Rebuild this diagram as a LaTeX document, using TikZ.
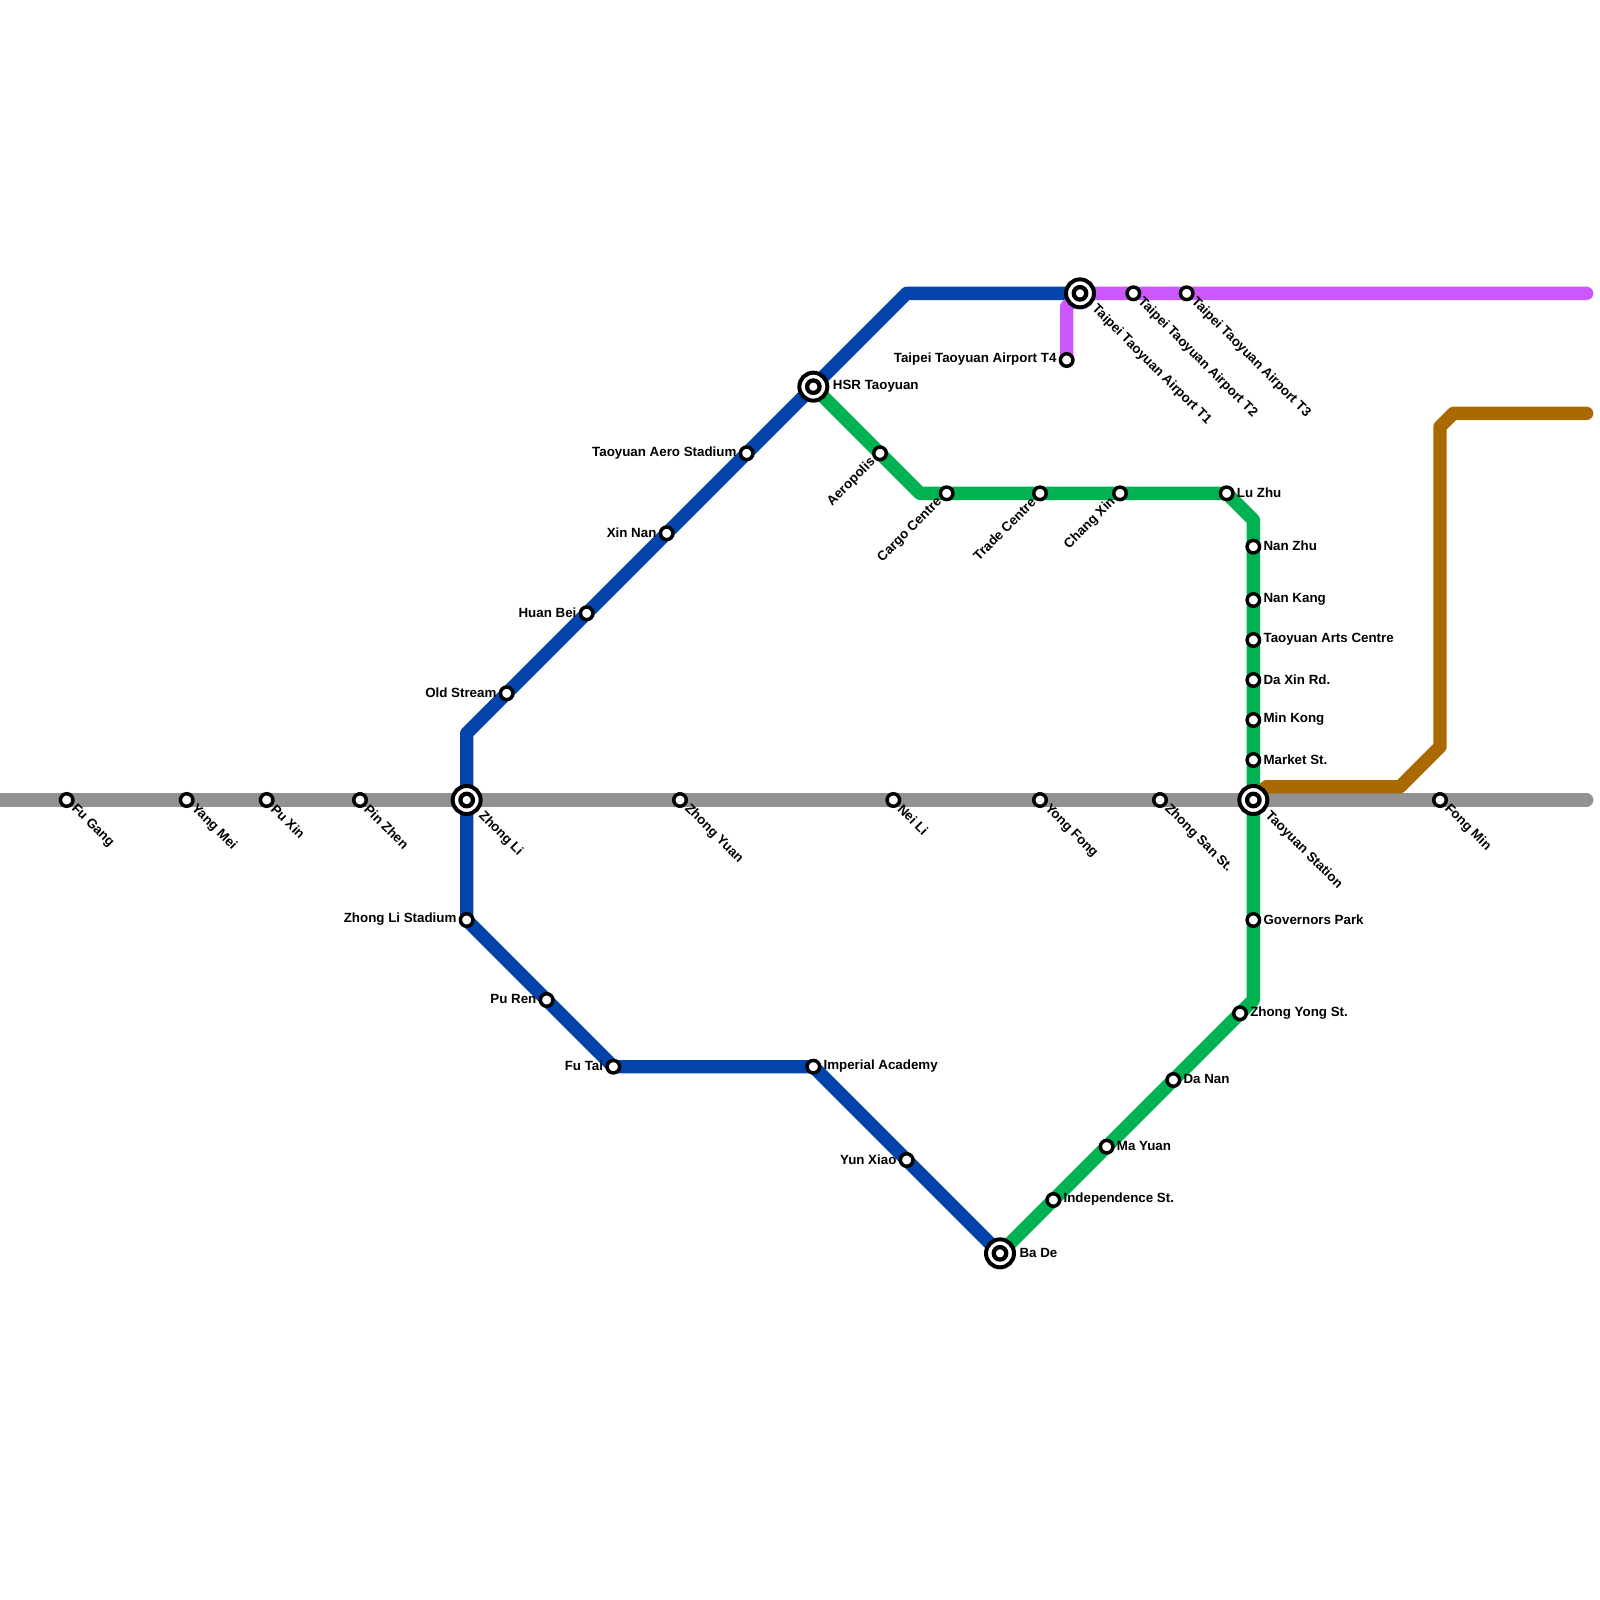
\documentclass[tikz,border=0pt]{standalone}
\usepackage{fontspec}
\setmainfont{Liberation Sans}
\usetikzlibrary{calc}
\definecolor{grayline}{HTML}{929292}
\definecolor{blueline}{HTML}{0344AB}
\definecolor{greenline}{HTML}{00B251}
\definecolor{purpleline}{HTML}{CD57FF}
\definecolor{brownline}{HTML}{A96900}
\tikzset{
  metro/.style={line width=10pt,line cap=round,line join=round},
  stn/.style={circle,draw=black,fill=white,line width=2.6pt,minimum size=9.4pt,inner sep=0pt,outer sep=0pt},
  hubouter/.style={circle,draw=black,fill=white,line width=3pt,minimum size=21pt,inner sep=0pt,outer sep=0pt},
  hubinner/.style={circle,draw=black,fill=white,line width=3.2pt,minimum size=9.4pt,inner sep=0pt,outer sep=0pt},
  lbl/.style={font=\fontsize{10pt}{12pt}\selectfont\bfseries,inner sep=0pt,text=black},
  lblR/.style={lbl,anchor=west,xshift=7.5pt,yshift=0.5pt},
  lblL/.style={lbl,anchor=east,xshift=-7.5pt,yshift=0.5pt},
  lblDR/.style={lbl,anchor=west,rotate=-45,xshift=7pt},
  lblUL/.style={lbl,anchor=east,rotate=45,xshift=-7pt},
  hubR/.style={lbl,anchor=west,xshift=14.5pt,yshift=0.2pt},
  hubDR/.style={lbl,anchor=west,rotate=-45,xshift=14.7pt},
}
\newcommand{\stat}[5]{\node[stn] (#1) at (#2,#3) {}; \node[#4] (#1-l) at (#2,#3) {#5};}
\newcommand{\hub}[5]{\node[hubouter] (#1) at (#2,#3) {}; \node[hubinner] (#1-i) at (#2,#3) {}; \node[#4] (#1-l) at (#2,#3) {#5};}
\begin{document}
\begin{tikzpicture}[x=10pt,y=-10pt]
\useasboundingbox (0,0) rectangle (120,120);
% positions of lines
\coordinate (gw) at (-2,60); \coordinate (ge) at (119,60);
\coordinate (zl) at (35,60); \coordinate (hsr) at (61,29); \coordinate (t1) at (81,22);
\coordinate (ts) at (94,60); \coordinate (bd) at (75,94);
\coordinate (t4) at (80,27);
\coordinate (b1) at (35,55); \coordinate (b2) at (68,22); \coordinate (b3) at (35,69);
\coordinate (b4) at (46,80); \coordinate (b5) at (61,80);
\coordinate (g1) at (69,37); \coordinate (g2) at (92,37); \coordinate (g3) at (94,39); \coordinate (g4) at (94,75);
\coordinate (p1) at (80,23); \coordinate (pe) at (119,22);
\coordinate (r1) at (95,59); \coordinate (r2) at (105,59); \coordinate (r3) at (108,56);
\coordinate (r4) at (108,32); \coordinate (r5) at (109,31); \coordinate (re) at (119,31);
% lines
\draw[metro,grayline] (gw) -- (ge);
\draw[metro,blueline] (t1) -- (b2) -- (hsr) -- (b1) -- (zl) -- (b3) -- (b4) -- (b5) -- (bd);
\draw[metro,greenline] (hsr) -- (g1) -- (g2) -- (g3) -- (g4) -- (bd);
\draw[metro,purpleline] (t4) -- (p1) -- (t1) -- (pe);
\draw[metro,brownline] (ts) -- (r1) -- (r2) -- (r3) -- (r4) -- (r5) -- (re);
% stations
\stat{fugang}{5}{60}{lblDR}{Fu Gang}
\stat{yangmei}{14}{60}{lblDR}{Yang Mei}
\stat{puxin}{20}{60}{lblDR}{Pu Xin}
\stat{pinzhen}{27}{60}{lblDR}{Pin Zhen}
\hub{zhongli}{35}{60}{hubDR}{Zhong Li}
\stat{zhongyuan}{51}{60}{lblDR}{Zhong Yuan}
\stat{neili}{67}{60}{lblDR}{Nei Li}
\stat{yongfong}{78}{60}{lblDR}{Yong Fong}
\stat{zhongsan}{87}{60}{lblDR}{Zhong San St.}
\hub{taoyuan}{94}{60}{hubDR}{Taoyuan Station}
\stat{fongmin}{108}{60}{lblDR}{Fong Min}
\stat{oldstream}{38}{52}{lblL}{Old Stream}
\stat{huanbei}{44}{46}{lblL}{Huan Bei}
\stat{xinnan}{50}{40}{lblL}{Xin Nan}
\stat{aero}{56}{34}{lblL}{Taoyuan Aero Stadium}
\hub{hsrt}{61}{29}{hubR}{HSR Taoyuan}
\stat{zlstadium}{35}{69}{lblL}{Zhong Li Stadium}
\stat{puren}{41}{75}{lblL}{Pu Ren}
\stat{futai}{46}{80}{lblL}{Fu Tai}
\stat{imperial}{61}{80}{lblR}{Imperial Academy}
\stat{yunxiao}{68}{87}{lblL}{Yun Xiao}
\hub{bade}{75}{94}{hubR}{Ba De}
\stat{indep}{79}{90}{lblR}{Independence St.}
\stat{mayuan}{83}{86}{lblR}{Ma Yuan}
\stat{danan}{88}{81}{lblR}{Da Nan}
\stat{zhongyong}{93}{76}{lblR}{Zhong Yong St.}
\stat{governors}{94}{69}{lblR}{Governors Park}
\stat{market}{94}{57}{lblR}{Market St.}
\stat{minkong}{94}{54}{lblR}{Min Kong}
\stat{daxin}{94}{51}{lblR}{Da Xin Rd.}
\stat{arts}{94}{48}{lblR}{Taoyuan Arts Centre}
\stat{nankang}{94}{45}{lblR}{Nan Kang}
\stat{nanzhu}{94}{41}{lblR}{Nan Zhu}
\stat{luzhu}{92}{37}{lblR}{Lu Zhu}
\stat{changxin}{84}{37}{lblUL}{Chang Xin}
\stat{trade}{78}{37}{lblUL}{Trade Centre}
\stat{cargo}{71}{37}{lblUL}{Cargo Centre}
\stat{aeropolis}{66}{34}{lblUL}{Aeropolis}
\stat{tfour}{80}{27}{lblL}{Taipei Taoyuan Airport T4}
\hub{tone}{81}{22}{hubDR}{Taipei Taoyuan Airport T1}
\stat{ttwo}{85}{22}{lblDR}{Taipei Taoyuan Airport T2}
\stat{tthree}{89}{22}{lblDR}{Taipei Taoyuan Airport T3}
\end{tikzpicture}
\end{document}
